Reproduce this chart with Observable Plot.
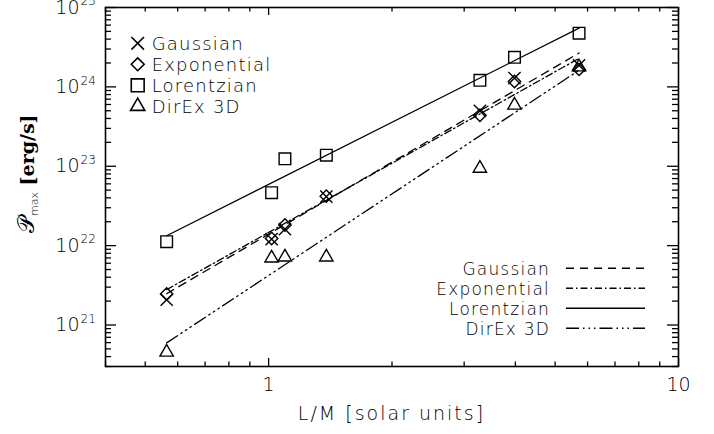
<!DOCTYPE html>
<html><head><meta charset="utf-8">
<script src="https://cdn.jsdelivr.net/npm/d3@7"></script>
<script src="https://cdn.jsdelivr.net/npm/@observablehq/plot@0.6"></script>
<style>
body{margin:0;background:#fff}
svg{display:block}
</style>
</head><body><div id="chart"></div>
<script>
// ---- data ----
const lm = [0.564, 1.017, 1.096, 1.383, 3.277, 3.98, 5.72];            // L/M [solar units]
const gaussian    = [2.08e21, 1.21e22, 1.61e22, 4.14e22, 4.98e23, 1.29e24, 1.87e24];
const exponential = [2.46e21, 1.23e22, 1.82e22, 4.2e22, 4.4e23, 1.17e24, 1.66e24];
const lorentzian  = [1.12e22, 4.65e22, 1.24e23, 1.38e23, 1.21e24, 2.36e24, 4.75e24];
const direx       = [4.54e20, 6.97e21, 7.17e21, 7.17e21, 9.42e22, 5.87e23, 1.78e24];
// power-law fits evaluated at first and last L/M
const fitX = [0.564, 5.72];
const gaussianFit    = [2.48e21, 2.67e24];
const exponentialFit = [2.79e21, 2.29e24];
const lorentzianFit  = [1.33e22, 5.5e24];
const direxFit       = [5.96e20, 1.62e24];
const seriesNames = ["Gaussian", "Exponential", "Lorentzian", "DirEx 3D"];
const seriesSymbols = ["times", "diamond2", "square2", "triangle2"];
const seriesDash = ["8,6", "7,3,1.5,3", null, "13,4,1.5,4,1.5,4,1.5,4"];
const xMajor = [1, 10];
const xMinor = [0.4, 0.5, 0.6, 0.7, 0.8, 0.9, 2, 3, 4, 5, 6, 7, 8, 9];
const yMajor = [1e21, 1e22, 1e23, 1e24, 1e25];
const yMinorMult = [2, 3, 4, 5, 6, 7, 8, 9];
const yDecades = [1e20, 1e21, 1e22, 1e23, 1e24];
const xLabel = "L/M [solar units]";

// ---- layout ----
const W = 714, H = 434;
const mL = 105, mR = 36, mT = 7, mB = 68;
const pw = W - mL - mR, ph = H - mT - mB;
const yMinor = yDecades.flatMap(d => yMinorMult.map(m => m * d)).filter(v => v >= 3e20);
const values = [gaussian, exponential, lorentzian, direx];
const fits = [gaussianFit, exponentialFit, lorentzianFit, direxFit];
const dotR = [5.6, 5.6, 7.4, 6.4];
const FONT = "DejaVu Sans, Verdana, sans-serif";
const LIGHT = 200;

const dotMarks = values.map((vals, i) =>
  Plot.dot(lm.map((x, j) => ({x, y: vals[j]})), {
    x: "x", y: "y", symbol: () => seriesSymbols[i], r: dotR[i],
    stroke: "black", fill: "none", strokeWidth: 1.4
  }));
const fitMarks = fits.map((f, i) =>
  Plot.line(fitX.map((x, j) => ({x, y: f[j]})), {
    x: "x", y: "y", stroke: "black", strokeWidth: 1.3,
    strokeDasharray: seriesDash[i] ?? undefined
  }));

function annotations(index, scales, vals, dim) {
  const {width, height, marginLeft, marginRight, marginTop, marginBottom} = dim;
  const left = marginLeft, right = width - marginRight, top = marginTop, bottom = height - marginBottom;
  const g = d3.create("svg:g").attr("font-family", FONT).attr("fill", "black");
  // x-axis title
  g.append("text").attr("x", (left + right) / 2).attr("y", bottom + 54)
    .attr("text-anchor", "middle").attr("font-size", 19).attr("letter-spacing", 2)
    .attr("font-weight", LIGHT).text(xLabel);
  // y-axis title (rotated)
  const yt = g.append("text").attr("transform", `translate(34,${top + 226}) rotate(-90)`)
    .attr("text-anchor", "start");
  yt.append("tspan").attr("font-family", "DejaVu Serif, serif").attr("font-size", 23).text("\u{1D4AB}");
  yt.append("tspan").attr("font-size", 11).attr("font-weight", LIGHT).attr("dy", 4).text("max");
  yt.append("tspan").attr("font-family", "DejaVu Serif, serif").attr("font-weight", "bold")
    .attr("font-size", 19).attr("dy", -4).text(" [erg/s]");
  // symbol legend (top-left)
  const symTypes = {times: d3.symbolTimes, diamond2: d3.symbolDiamond2, square2: d3.symbolSquare2, triangle2: d3.symbolTriangle2};
  const legR = [5.8, 5.8, 8.2, 6.8];
  seriesNames.forEach((name, i) => {
    const cy = top + 36.3 + i * 21;
    g.append("path").attr("transform", `translate(${left + 32.7},${cy})`)
      .attr("d", d3.symbol(symTypes[seriesSymbols[i]], Math.PI * legR[i] * legR[i])())
      .attr("fill", "none").attr("stroke", "black").attr("stroke-width", 1.6);
    g.append("text").attr("x", left + 46.7).attr("y", cy + 7).attr("text-anchor", "start")
      .attr("font-size", 18).attr("letter-spacing", 1.2).attr("font-weight", LIGHT).text(name);
  });
  // line legend (bottom-right)
  seriesNames.forEach((name, i) => {
    const cy = bottom - 97.7 + i * 20;
    g.append("text").attr("x", right - 128).attr("y", cy + 6.5).attr("text-anchor", "end")
      .attr("font-size", 17).attr("letter-spacing", 1.2).attr("font-weight", LIGHT).text(name);
    const ln = g.append("line").attr("x1", right - 112).attr("x2", right - 33)
      .attr("y1", cy).attr("y2", cy).attr("stroke", "black").attr("stroke-width", 1.4);
    if (seriesDash[i]) ln.attr("stroke-dasharray", seriesDash[i]);
  });
  return g.node();
}

const chart = Plot.plot({
  width: W, height: H,
  marginLeft: mL, marginRight: mR, marginTop: mT, marginBottom: mB,
  style: {fontFamily: FONT, background: "white", overflow: "visible"},
  x: {type: "log", domain: [0.4, 10], axis: null},
  y: {type: "log", domain: [3e20, 1e25], axis: null},
  marks: [
    // ticks (inward, all four sides)
    Plot.ruleX(xMajor, {x: d => d, insetTop: ph - 8, strokeWidth: 1.3}),
    Plot.ruleX(xMajor, {x: d => d, insetBottom: ph - 8, strokeWidth: 1.3}),
    Plot.ruleX(xMinor, {x: d => d, insetTop: ph - 4.5, strokeWidth: 1.3}),
    Plot.ruleX(xMinor, {x: d => d, insetBottom: ph - 4.5, strokeWidth: 1.3}),
    Plot.ruleY(yMajor, {y: d => d, insetRight: pw - 11, strokeWidth: 1.3}),
    Plot.ruleY(yMajor, {y: d => d, insetLeft: pw - 11, strokeWidth: 1.3}),
    Plot.ruleY(yMinor, {y: d => d, insetRight: pw - 6, strokeWidth: 1.3}),
    Plot.ruleY(yMinor, {y: d => d, insetLeft: pw - 6, strokeWidth: 1.3}),
    Plot.frame({stroke: "black", strokeWidth: 1.6}),
    // tick labels
    Plot.text(xMajor, {x: d => d, text: d => String(d), frameAnchor: "bottom", dy: 24, fontSize: 19, fontWeight: LIGHT, letterSpacing: 1}),
    Plot.text(yMajor, {y: d => d, text: () => "10", frameAnchor: "left", textAnchor: "end", dx: -26, fontSize: 19, fontWeight: LIGHT}),
    Plot.text(yMajor, {y: d => d, text: d => String(Math.round(Math.log10(d))), frameAnchor: "left", textAnchor: "start", dx: -25, dy: -6, fontSize: 12, fontWeight: LIGHT}),
    ...fitMarks,
    ...dotMarks,
    annotations
  ]
});
document.getElementById("chart").append(chart);
</script>
</body></html>
